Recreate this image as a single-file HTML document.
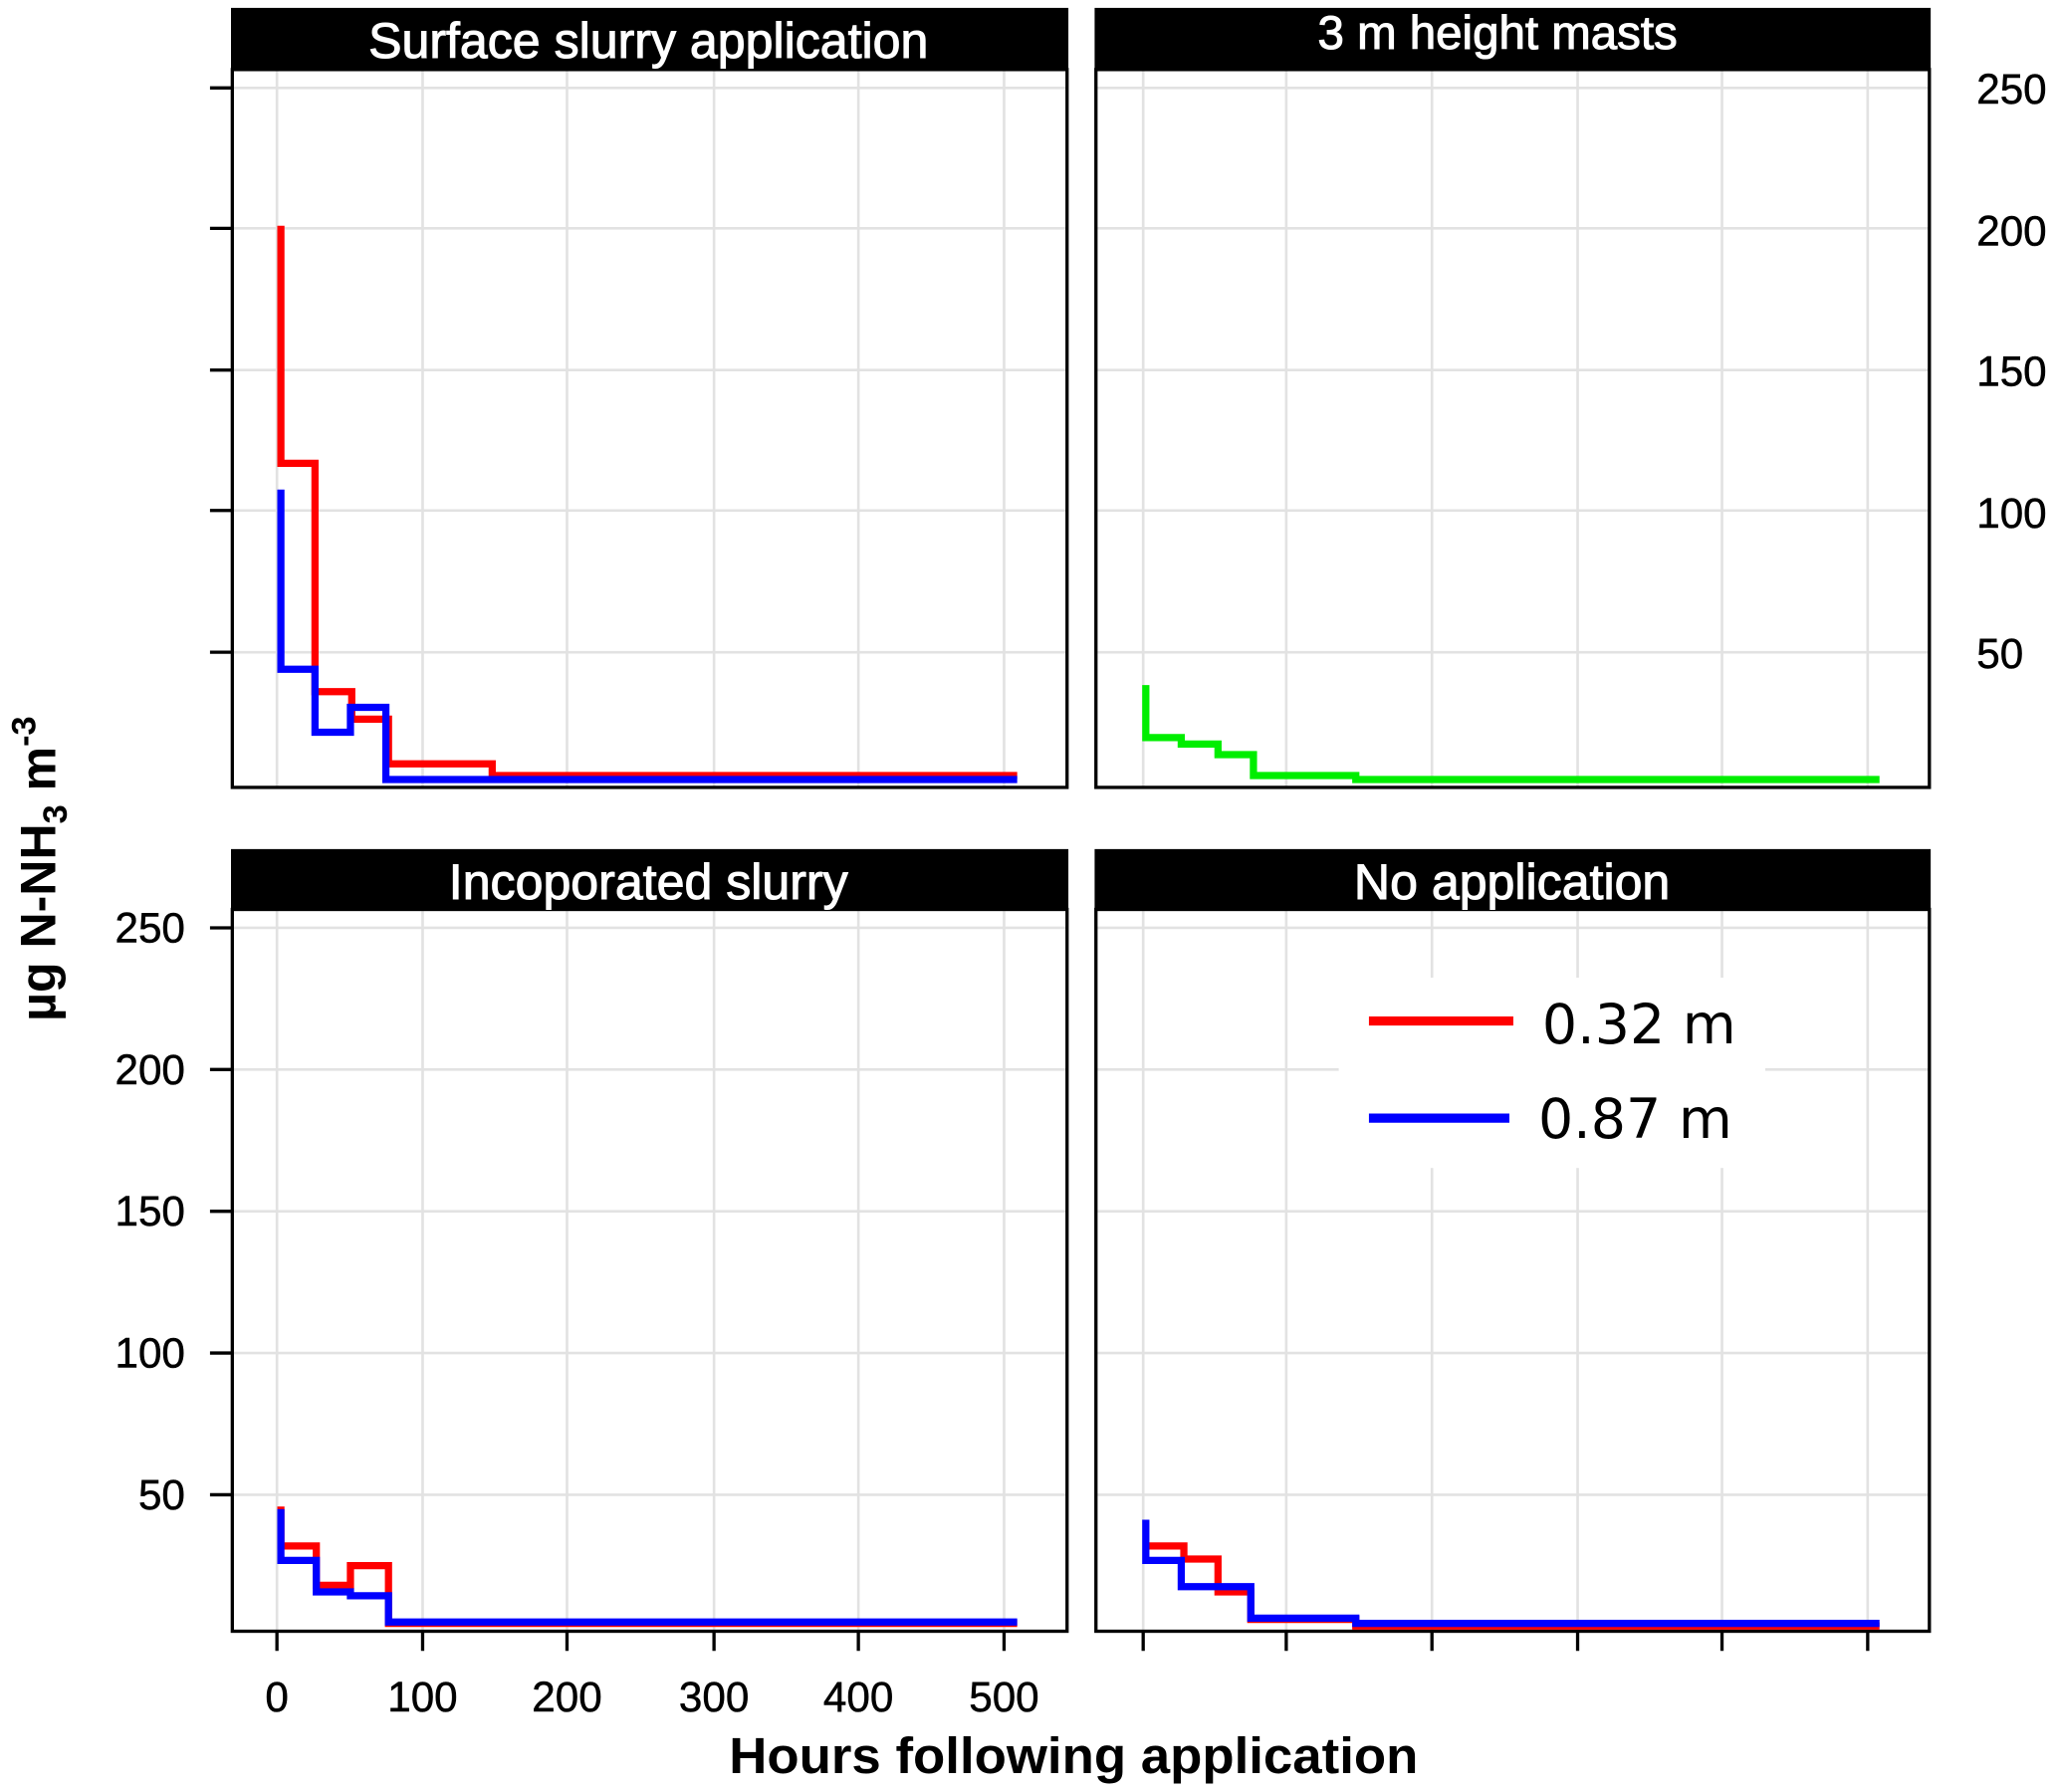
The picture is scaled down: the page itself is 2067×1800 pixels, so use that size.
<!DOCTYPE html>
<html><head><style>html,body{margin:0;padding:0;background:#fff}svg{display:block}</style></head>
<body>
<svg width="2067" height="1800" viewBox="0 0 1568 1365.5" preserveAspectRatio="none" xmlns="http://www.w3.org/2000/svg" font-family="Liberation Sans, sans-serif">
<g stroke="#e2e2e2" stroke-width="2">
 <path d="M211 53V600M322 53V600M432 53V600M544 53V600M654 53V600M765 53V600M177 67H813M177 174H813M177 282H813M177 389H813M177 497H813"/>
 <path d="M871 53V600M980 53V600M1091 53V600M1202 53V600M1312 53V600M1423 53V600M835 67H1470M835 174H1470M835 282H1470M835 389H1470M835 497H1470"/>
 <path d="M211 693V1243M322 693V1243M432 693V1243M544 693V1243M654 693V1243M765 693V1243M177 707H813M177 815H813M177 923H813M177 1031H813M177 1139H813"/>
 <path d="M871 693V1243M980 693V1243M1091 693V1243M1202 693V1243M1312 693V1243M1423 693V1243M835 707H1470M835 815H1470M835 923H1470M835 1031H1470M835 1139H1470"/>
</g>
<g fill="none" stroke="#000" stroke-width="2.5">
 <rect x="177" y="53" width="636" height="547"/>
 <rect x="835" y="53" width="635" height="547"/>
 <rect x="177" y="693" width="636" height="550"/>
 <rect x="835" y="693" width="635" height="550"/>
 <path d="M160 67H177M160 174H177M160 282H177M160 389H177M160 497H177"/>
 <path d="M160 707H177M160 815H177M160 923H177M160 1031H177M160 1139H177"/>
 <path d="M211 1243V1258M322 1243V1258M432 1243V1258M544 1243V1258M654 1243V1258M765 1243V1258"/>
 <path d="M871 1243V1258M980 1243V1258M1091 1243V1258M1202 1243V1258M1312 1243V1258M1423 1243V1258"/>
</g>
<rect x="176" y="6" width="638" height="47" fill="#000"/>
<rect x="834" y="6" width="637" height="47" fill="#000"/>
<rect x="176" y="647" width="638" height="46" fill="#000"/>
<rect x="834" y="647" width="637" height="46" fill="#000"/>
<g fill="#fff" font-size="38" text-anchor="middle" stroke="#fff" stroke-width="0.8">
 <text x="494" y="44">Surface slurry application</text>
 <text x="1141" y="37" font-size="36">3 m height masts</text>
 <text x="494" y="685">Incoporated slurry</text>
 <text x="1152" y="685">No application</text>
</g>
<g font-size="32" fill="#000" stroke="#000" stroke-width="0.4">
 <g text-anchor="end">
  <text x="141" y="718">250</text><text x="141" y="826">200</text><text x="141" y="934">150</text><text x="141" y="1042">100</text><text x="141" y="1150">50</text>
 </g>
 <g>
  <text x="1506" y="79">250</text><text x="1506" y="187">200</text><text x="1506" y="294">150</text><text x="1506" y="402">100</text><text x="1506" y="509">50</text>
 </g>
 <g text-anchor="middle">
  <text x="211" y="1304">0</text><text x="322" y="1304">100</text><text x="432" y="1304">200</text><text x="544" y="1304">300</text><text x="654" y="1304">400</text><text x="765" y="1304">500</text>
 </g>
</g>
<text x="818" y="1351" font-size="39" font-weight="bold" text-anchor="middle" textLength="525" lengthAdjust="spacingAndGlyphs">Hours following application</text>
<text transform="translate(42,662) rotate(-90)" font-size="38" font-weight="bold" text-anchor="middle">µg N-NH<tspan font-size="26" dy="9">3</tspan><tspan dy="-9"> m</tspan><tspan font-size="26" dy="-15">-3</tspan></text>
<g fill="none" stroke-width="5.5" stroke-linejoin="miter">
 <path stroke="#ff0000" d="M214 172V353H240V527H268V548H296V582H375V591H775"/>
 <path stroke="#0000ff" d="M214 373V510H240V558H267V539H294V594H775"/>
 <path stroke="#00ee00" d="M873 522V562H900V567H928V575H955V591H1033V594H1432"/>
 <path stroke="#ff0000" d="M214 1148V1178H241V1208H267V1193H296V1237H775"/>
 <path stroke="#0000ff" d="M214 1150V1189H241V1213H267V1216H296V1236H775"/>
 <path stroke="#ff0000" d="M873 1178H902V1188H928V1213H953V1234H1033V1239H1432"/>
 <path stroke="#0000ff" d="M873 1158V1189H900V1209H953V1233H1033V1237H1432"/>
</g>
<rect x="1020" y="745" width="325" height="145" fill="#fff"/>
<path d="M1043 778H1153" stroke="#ff0000" stroke-width="7"/>
<path d="M1043 852H1150" stroke="#0000ff" stroke-width="7"/>
<g font-family="DejaVu Sans, sans-serif" font-size="42">
 <text x="1175" y="795">0.32 m</text>
 <text x="1172" y="867">0.87 m</text>
</g>
</svg>
</body></html>
